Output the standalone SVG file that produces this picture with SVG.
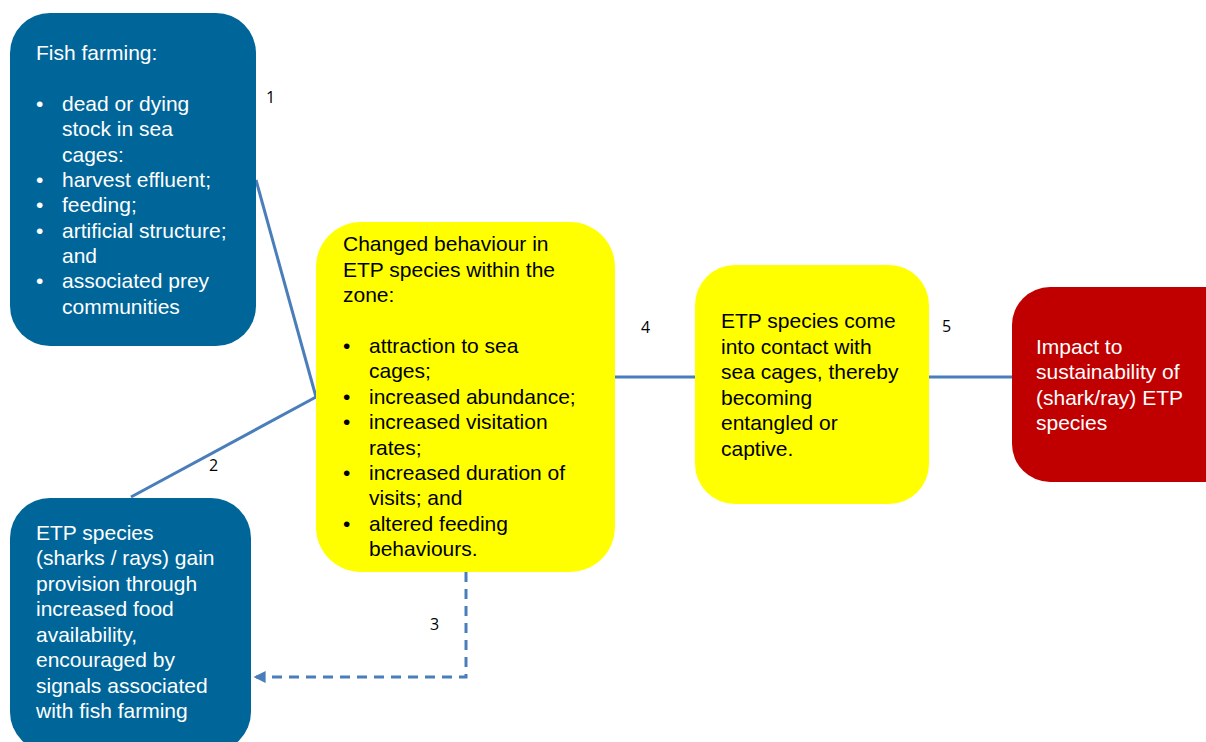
<svg xmlns="http://www.w3.org/2000/svg" width="1206" height="742" viewBox="0 0 1206 742">
<defs>
<style>
.t{font-family:"Liberation Sans",Arial,sans-serif;font-size:21px}
.w{fill:#ffffff}
.k{fill:#000000}
.n{font-family:"Open Sans","Liberation Sans",sans-serif;font-size:16px;fill:#000}
.c{stroke:#4A7EBB;stroke-width:3;fill:none}
.blue{fill:#006699}
.yel{fill:#FFFF00}
.red{fill:#C00000}
</style>
<marker id="ah" viewBox="0 0 10 10" refX="8" refY="5" markerWidth="4" markerHeight="4" orient="auto">
<path d="M0,0 L10,5 L0,10 z" fill="#4A7EBB"/>
</marker>
</defs>
<g id="connectors">
<line class="c" x1="256" y1="180" x2="316" y2="397"/>
<line class="c" x1="131" y1="497" x2="316" y2="397"/>
<line class="c" x1="615" y1="377" x2="695" y2="377"/>
<line class="c" x1="929" y1="377" x2="1012" y2="377"/>
<path class="c" d="M466,572 V677 H256" stroke-dasharray="10,7" marker-end="url(#ah)"/>
<text class="n" x="266" y="103">1</text>
<text class="n" x="209" y="471">2</text>
<text class="n" x="430" y="630">3</text>
<text class="n" x="641" y="333">4</text>
<text class="n" x="942" y="332">5</text>
</g>
<g id="fish-farming">
<rect class="blue" x="10" y="13" width="246" height="333" rx="40"/>
<text class="t w">
<tspan x="36" y="60">Fish farming:</tspan>
<tspan x="36" y="111">•</tspan><tspan x="62" y="111">dead or dying</tspan>
<tspan x="62" y="136">stock in sea</tspan>
<tspan x="62" y="162">cages:</tspan>
<tspan x="36" y="187">•</tspan><tspan x="62" y="187">harvest effluent;</tspan>
<tspan x="36" y="212">•</tspan><tspan x="62" y="212">feeding;</tspan>
<tspan x="36" y="238">•</tspan><tspan x="62" y="238">artificial structure;</tspan>
<tspan x="62" y="263">and</tspan>
<tspan x="36" y="288">•</tspan><tspan x="62" y="288">associated prey</tspan>
<tspan x="62" y="314">communities</tspan>
</text>
</g>
<g id="etp-provision">
<rect class="blue" x="10" y="498" width="241" height="254" rx="40"/>
<text class="t w">
<tspan x="36" y="540">ETP species</tspan>
<tspan x="36" y="565">(sharks / rays) gain</tspan>
<tspan x="36" y="591">provision through</tspan>
<tspan x="36" y="616">increased food</tspan>
<tspan x="36" y="642">availability,</tspan>
<tspan x="36" y="667">encouraged by</tspan>
<tspan x="36" y="693">signals associated</tspan>
<tspan x="36" y="718">with fish farming</tspan>
</text>
</g>
<g id="changed-behaviour">
<rect class="yel" x="316" y="222" width="299" height="350" rx="45"/>
<text class="t k">
<tspan x="343" y="251">Changed behaviour in</tspan>
<tspan x="343" y="277">ETP species within the</tspan>
<tspan x="343" y="302">zone:</tspan>
<tspan x="343" y="353">•</tspan><tspan x="369" y="353">attraction to sea</tspan>
<tspan x="369" y="378">cages;</tspan>
<tspan x="343" y="404">•</tspan><tspan x="369" y="404">increased abundance;</tspan>
<tspan x="343" y="429">•</tspan><tspan x="369" y="429">increased visitation</tspan>
<tspan x="369" y="455">rates;</tspan>
<tspan x="343" y="480">•</tspan><tspan x="369" y="480">increased duration of</tspan>
<tspan x="369" y="505">visits; and</tspan>
<tspan x="343" y="531">•</tspan><tspan x="369" y="531">altered feeding</tspan>
<tspan x="369" y="556">behaviours.</tspan>
</text>
</g>
<g id="contact">
<rect class="yel" x="695" y="265" width="234" height="239" rx="40"/>
<text class="t k">
<tspan x="721" y="328">ETP species come</tspan>
<tspan x="721" y="354">into contact with</tspan>
<tspan x="721" y="379">sea cages, thereby</tspan>
<tspan x="721" y="405">becoming</tspan>
<tspan x="721" y="430">entangled or</tspan>
<tspan x="721" y="456">captive.</tspan>
</text>
</g>
<g id="impact">
<rect class="red" x="1012" y="287" width="230" height="195" rx="38"/>
<text class="t w">
<tspan x="1036" y="354">Impact to</tspan>
<tspan x="1036" y="379">sustainability of</tspan>
<tspan x="1036" y="405">(shark/ray) ETP</tspan>
<tspan x="1036" y="430">species</tspan>
</text>
</g>
</svg>
